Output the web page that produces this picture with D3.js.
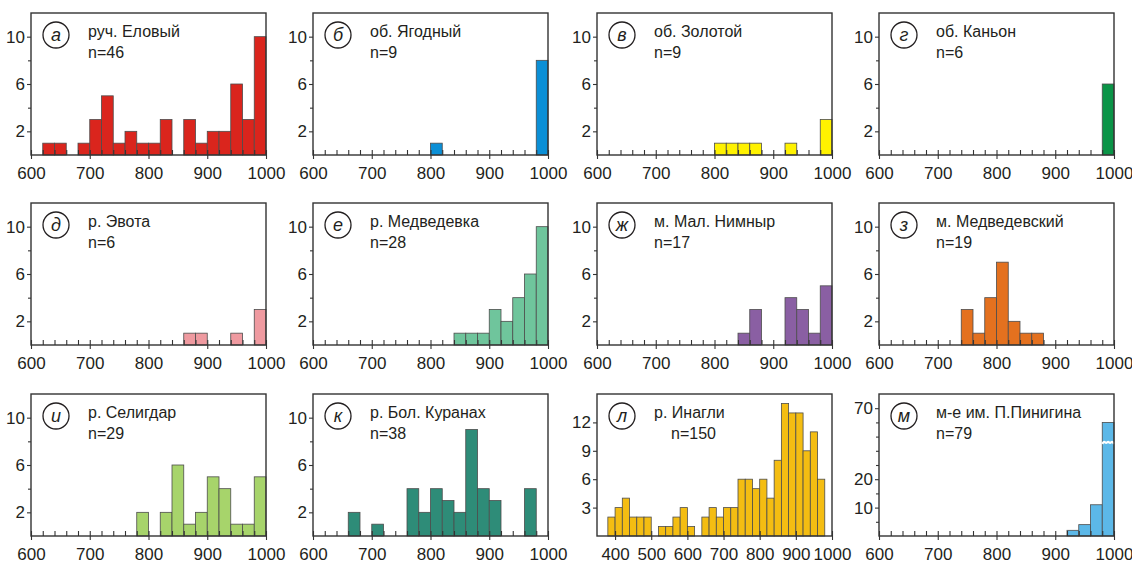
<!DOCTYPE html>
<html>
<head>
<meta charset="utf-8">
<script src="https://cdn.jsdelivr.net/npm/d3@7"></script>
<style>
  body { margin: 0; background: #fff; }
  svg text { font-family: "Liberation Sans", Arial, sans-serif; fill: #231f20; }
</style>
</head>
<body>
<svg id="chart" width="1132" height="563"></svg>
<script>
// histogram counts, 20-unit bins
var elovyCounts    = [0,1,1,0,1,3,5,1,2,1,1,3,0,3,1,2,2,6,3,10];   // from 600
var yagodnyCounts  = [0,0,0,0,0,0,0,0,0,0,1,0,0,0,0,0,0,0,0,8];
var zolotoyCounts  = [0,0,0,0,0,0,0,0,0,0,1,1,1,1,0,0,1,0,0,3];
var kanyonCounts   = [0,0,0,0,0,0,0,0,0,0,0,0,0,0,0,0,0,0,0,6];
var evotaCounts    = [0,0,0,0,0,0,0,0,0,0,0,0,0,1,1,0,0,1,0,3];
var medvedCounts   = [0,0,0,0,0,0,0,0,0,0,0,0,1,1,1,3,2,4,6,10];
var nimnyrCounts   = [0,0,0,0,0,0,0,0,0,0,0,0,1,3,0,0,4,3,1,5];
var medvedskCounts = [0,0,0,0,0,0,0,3,1,4,7,2,1,1,0,0,0,0,0,0];
var seligdarCounts = [0,0,0,0,0,0,0,0,0,2,0,2,6,1,2,5,4,1,1,5];
var kuranakhCounts = [0,0,0,2,0,1,0,0,4,2,4,3,2,9,4,3,0,0,4,0];
var inagliCounts   = [2,3,4,2,2,2,0,1,1,2,3,1,0,2,3,2,3,3,6,6,5,6,4,8,14,13,13,9,11,6]; // from 380
var pinigCounts    = [0,0,0,0,0,0,0,0,0,0,0,0,0,0,0,0,2,4,11,65];

var panelCounts = [elovyCounts, yagodnyCounts, zolotoyCounts, kanyonCounts,
                   evotaCounts, medvedCounts, nimnyrCounts, medvedskCounts,
                   seligdarCounts, kuranakhCounts, inagliCounts, pinigCounts];
var binStart = [600,600,600,600, 600,600,600,600, 600,600,380,600];
var panelLetters = ["а","б","в","г","д","е","ж","з","и","к","л","м"];
var panelNames = ["руч. Еловый","об. Ягодный","об. Золотой","об. Каньон",
                  "р. Эвота","р. Медведевка","м. Мал. Нимныр","м. Медведевский",
                  "р. Селигдар","р. Бол. Куранах","р. Инагли","м-е им. П.Пинигина"];
var panelN = [46, 9, 9, 6, 6, 28, 17, 19, 29, 38, 150, 79];
var panelColors = ["#da251d","#0b8fd6","#fff200","#0a9447",
                   "#ef9aa0","#6fc59c","#8a5fa3","#e4711f",
                   "#a7d46b","#2e8c78","#f4bd12","#5cb8e8"];
var xTickLabels = [600, 700, 800, 900, 1000];
var xTickLabelsWide = [400, 500, 600, 700, 800, 900, 1000];
var yTickLabels = [2, 6, 10];
var yTickLabelsInagli = [3, 6, 9, 12];
var yTickLabelsPinig = [10, 20, 70];

var binWidth = 20;
var colLeft = [31, 313, 597, 879];
var rowTop = [13, 203, 394];
var W = 235, H = 142;

var svg = d3.select("#chart");

for (var i = 0; i < 12; i++) {
    var g = svg.append("g")
        .attr("transform", "translate(" + colLeft[i % 4] + "," + rowTop[Math.floor(i / 4)] + ")");

    var wide = (i == 10);
    var x = d3.scaleLinear().domain(wide ? [350, 1000] : [600, 1000]).range([0, W]);

    var y, majorY, minorY;
    if (i == 10) {
        y = d3.scaleLinear().domain([0, 15]).range([H, 0]);
        majorY = yTickLabelsInagli; minorY = [];
    } else if (i == 11) {
        // broken axis: 25..50 is cut out
        y = d3.scaleLinear().domain([0, 25, 50, 75]).range([H, H - H * 25 / 50, H - H * 25 / 50, 0]);
        majorY = yTickLabelsPinig; minorY = [5, 15, 25, 55, 60, 65];
    } else {
        y = d3.scaleLinear().domain([0, 12]).range([H, 0]);
        majorY = yTickLabels; minorY = [4, 8];
    }

    var bins = panelCounts[i].map(function(c, k) {
        return { x0: binStart[i] + k * binWidth, c: c };
    }).filter(function(d) { return d.c > 0; });

    g.selectAll("rect.bar")
        .data(bins)
        .enter().append("rect")
        .attr("class", "bar")
        .attr("x", function(d) { return x(d.x0); })
        .attr("width", function(d) { return x(d.x0 + binWidth) - x(d.x0); })
        .attr("y", function(d) { return y(d.c); })
        .attr("height", function(d) { return H - y(d.c); })
        .attr("fill", panelColors[i])
        .attr("stroke", "#4d4d4d")
        .attr("stroke-width", 0.8);

    if (i == 11) {
        // white wavy break mark across the tall bar
        var tall = bins[bins.length - 1];
        var bx0 = x(tall.x0), bx1 = x(tall.x0 + binWidth), by = y(58);
        var wave = d3.range(0, 7).map(function(k) {
            return [bx0 + (bx1 - bx0) * k / 6, by + (k % 2 ? -1.5 : 1.5)];
        });
        g.append("path")
            .attr("d", d3.line().curve(d3.curveBasis)(wave))
            .attr("fill", "none")
            .attr("stroke", "#fff")
            .attr("stroke-width", 2.2);
    }

    // x axis: minor ticks inside, majors with labels
    var xMinor = d3.range(x.domain()[0] + (wide ? 50 : 0), 1001, wide ? 100 : 20);
    g.append("g")
        .attr("transform", "translate(0," + H + ")")
        .call(d3.axisBottom(x).tickValues(xMinor).tickSize(-5).tickFormat(""))
        .call(function(a) { a.select(".domain").remove(); });

    g.append("g")
        .attr("class", "xaxis")
        .attr("transform", "translate(0," + H + ")")
        .call(d3.axisBottom(x).tickValues(wide ? xTickLabelsWide : xTickLabels)
              .tickSize(4).tickPadding(8).tickFormat(d3.format("d")))
        .call(function(a) { a.select(".domain").remove(); });

    g.append("g")
        .call(d3.axisLeft(y).tickValues(minorY).tickSize(3).tickFormat(""))
        .call(function(a) { a.select(".domain").remove(); });

    g.append("g")
        .attr("class", "yaxis")
        .call(d3.axisLeft(y).tickValues(majorY).tickSize(4).tickPadding(2).tickFormat(d3.format("d")))
        .call(function(a) { a.select(".domain").remove(); });

    g.selectAll(".tick line").attr("stroke", "#333").attr("stroke-width", 1.1);
    g.selectAll(".xaxis text, .yaxis text")
        .attr("font-size", 17)
        .attr("font-family", "Liberation Sans, Arial, sans-serif")
        .attr("fill", "#231f20");

    // frame
    g.append("rect")
        .attr("width", W)
        .attr("height", H)
        .attr("fill", "none")
        .attr("stroke", "#333")
        .attr("stroke-width", 1.4);

    // circled letter
    g.append("circle")
        .attr("cx", 25).attr("cy", 22).attr("r", 13)
        .attr("fill", "#fff")
        .attr("stroke", "#231f20")
        .attr("stroke-width", 1.3);
    g.append("text")
        .attr("x", 25).attr("y", 28)
        .attr("text-anchor", "middle")
        .attr("font-size", 18)
        .attr("font-style", "italic")
        .text(panelLetters[i]);

    g.append("text")
        .attr("x", 57).attr("y", 24)
        .attr("font-size", 16)
        .text(panelNames[i]);
    g.append("text")
        .attr("x", wide ? 74 : 57).attr("y", 45)
        .attr("font-size", 16)
        .text("n=" + panelN[i]);
}
</script>
</body>
</html>
